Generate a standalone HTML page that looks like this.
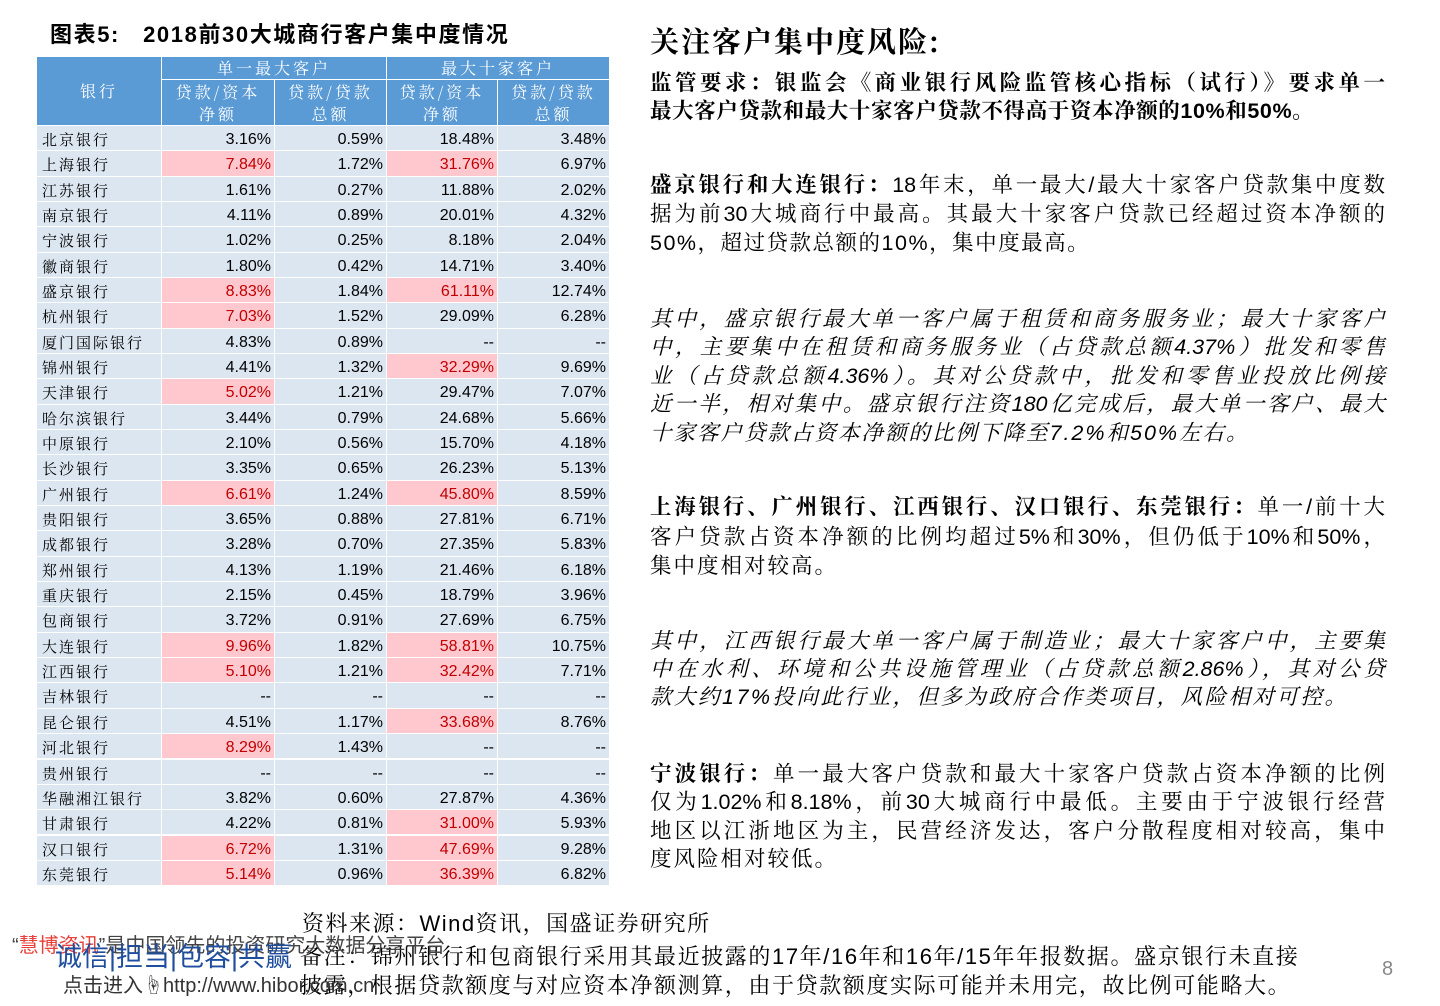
<!DOCTYPE html>
<html><head><meta charset="utf-8">
<style>
body{margin:0;width:1440px;height:1006px;background:#fff;position:relative;overflow:hidden;font-family:"Liberation Sans","Noto Sans CJK SC",sans-serif;color:#000}
.a{position:absolute;white-space:nowrap}
.hd{position:absolute;background:#5b9bd5;color:#fff;font-family:"Noto Serif CJK SC","Liberation Serif",serif;font-size:16px;text-align:center;letter-spacing:3px;line-height:22px;display:flex;align-items:center;justify-content:center}
.c{position:absolute;background:#dce6f1;font-size:16px;line-height:28px;text-align:right;padding-right:3px;box-sizing:border-box}
.bk{text-align:left;padding-left:5px;font-family:"Noto Serif CJK SC",serif;font-size:15px;letter-spacing:2px}
.hi{background:#ffc7ce;color:#c00000}
.ln{position:absolute;left:650px;width:735px;font-size:21.5px;line-height:28px;text-align:justify;text-align-last:justify;white-space:nowrap;font-family:"Liberation Sans","Noto Serif CJK SC",serif}
.last{text-align-last:left}
.it{font-style:italic}
</style></head><body>
<div class="a" style="left:50px;top:17px;font-size:22px;font-weight:bold;letter-spacing:1.6px">图表5:&nbsp;&nbsp; 2018前30大城商行客户集中度情况</div>
<div id="tbl">
<div class="hd" style="left:37px;top:57px;width:124px;height:68px">银行</div>
<div class="hd" style="left:162px;top:57px;width:224px;height:22px">单一最大客户</div>
<div class="hd" style="left:387px;top:57px;width:222px;height:22px">最大十家客户</div>
<div class="hd" style="left:162px;top:80px;width:112px;height:45px">贷款/资本<br>净额</div>
<div class="hd" style="left:275px;top:80px;width:111px;height:45px">贷款/贷款<br>总额</div>
<div class="hd" style="left:387px;top:80px;width:110px;height:45px">贷款/资本<br>净额</div>
<div class="hd" style="left:498px;top:80px;width:111px;height:45px">贷款/贷款<br>总额</div>
</div>
<script>
const banks=["北京银行","上海银行","江苏银行","南京银行","宁波银行","徽商银行","盛京银行","杭州银行","厦门国际银行","锦州银行","天津银行","哈尔滨银行","中原银行","长沙银行","广州银行","贵阳银行","成都银行","郑州银行","重庆银行","包商银行","大连银行","江西银行","吉林银行","昆仑银行","河北银行","贵州银行","华融湘江银行","甘肃银行","汉口银行","东莞银行"];
const singleToCapital=[3.16,7.84,1.61,4.11,1.02,1.80,8.83,7.03,4.83,4.41,5.02,3.44,2.10,3.35,6.61,3.65,3.28,4.13,2.15,3.72,9.96,5.10,null,4.51,8.29,null,3.82,4.22,6.72,5.14];
const singleToLoans=[0.59,1.72,0.27,0.89,0.25,0.42,1.84,1.52,0.89,1.32,1.21,0.79,0.56,0.65,1.24,0.88,0.70,1.19,0.45,0.91,1.82,1.21,null,1.17,1.43,null,0.60,0.81,1.31,0.96];
const topTenToCapital=[18.48,31.76,11.88,20.01,8.18,14.71,61.11,29.09,null,32.29,29.47,24.68,15.70,26.23,45.80,27.81,27.35,21.46,18.79,27.69,58.81,32.42,null,33.68,null,null,27.87,31.00,47.69,36.39];
const topTenToLoans=[3.48,6.97,2.02,4.32,2.04,3.40,12.74,6.28,null,9.69,7.07,5.66,4.18,5.13,8.59,6.71,5.83,6.18,3.96,6.75,10.75,7.71,null,8.76,null,null,4.36,5.93,9.28,6.82];
const cols=[[162,112],[275,111],[387,110],[498,111]];
const series=[singleToCapital,singleToLoans,topTenToCapital,topTenToLoans];
const thr=[5,null,30,null];
const tbl=document.getElementById('tbl');
const rowY=i=>126+i*25.34;
banks.forEach((b,i)=>{
  const y=rowY(i);
  const d=document.createElement('div');
  d.className='c bk';
  
  
  d.style.cssText=`left:37px;top:${y}px;width:124px;height:24.3px`;
  d.textContent=b;tbl.appendChild(d);
  series.forEach((s,j)=>{
    const v=s[i];
    const e=document.createElement('div');
    e.className='c'+(thr[j]!==null&&v!==null&&v>thr[j]?' hi':'');
    
    
    e.style.cssText=`left:${cols[j][0]}px;top:${y}px;width:${cols[j][1]}px;height:24.3px`;
    e.textContent=v===null?'--':v.toFixed(2)+'%';
    tbl.appendChild(e);
  });
});
</script>
<div class="a" style="left:650px;top:20px;font-size:29px;font-weight:bold;letter-spacing:2px;font-family:'Noto Serif CJK SC',serif;">关注客户集中度风险:</div>
<div>
<div class="ln" style="top:69px;font-weight:bold">监管要求：银监会《商业银行风险监管核心指标（试行）》要求单一</div>
<div class="ln last" style="top:97px;font-weight:bold;letter-spacing:0.6px">最大客户贷款和最大十家客户贷款不得高于资本净额的10%和50%。</div>
<div class="ln" style="top:171px"><b>盛京银行和大连银行：</b>18年末，单一最大/最大十家客户贷款集中度数</div>
<div class="ln" style="top:200px">据为前30大城商行中最高。其最大十家客户贷款已经超过资本净额的</div>
<div class="ln last" style="top:229px;letter-spacing:1.5px">50%，超过贷款总额的10%，集中度最高。</div>
<div class="ln it" style="top:305px">其中，盛京银行最大单一客户属于租赁和商务服务业；最大十家客户</div>
<div class="ln it" style="top:333px">中，主要集中在租赁和商务服务业（占贷款总额4.37%）批发和零售</div>
<div class="ln it" style="top:362px">业（占贷款总额4.36%）。其对公贷款中，批发和零售业投放比例接</div>
<div class="ln it" style="top:390px">近一半，相对集中。盛京银行注资180亿完成后，最大单一客户、最大</div>
<div class="ln it last" style="top:419px;letter-spacing:2px">十家客户贷款占资本净额的比例下降至7.2%和50%左右。</div>
<div class="ln" style="top:493px"><b>上海银行、广州银行、江西银行、汉口银行、东莞银行：</b>单一/前十大</div>
<div class="ln" style="top:523px">客户贷款占资本净额的比例均超过5%和30%，但仍低于10%和50%，</div>
<div class="ln last" style="top:552px;letter-spacing:2px">集中度相对较高。</div>
<div class="ln it" style="top:627px">其中，江西银行最大单一客户属于制造业；最大十家客户中，主要集</div>
<div class="ln it" style="top:655px">中在水利、环境和公共设施管理业（占贷款总额2.86%），其对公贷</div>
<div class="ln it last" style="top:683px;letter-spacing:2.5px">款大约17%投向此行业，但多为政府合作类项目，风险相对可控。</div>
<div class="ln" style="top:760px"><b>宁波银行：</b>单一最大客户贷款和最大十家客户贷款占资本净额的比例</div>
<div class="ln" style="top:788px">仅为1.02%和8.18%，前30大城商行中最低。主要由于宁波银行经营</div>
<div class="ln" style="top:817px">地区以江浙地区为主，民营经济发达，客户分散程度相对较高，集中</div>
<div class="ln last" style="top:845px;letter-spacing:2px">度风险相对较低。</div>
</div>
<div class="a" style="left:302px;top:907px;font-size:22px;letter-spacing:1.5px;font-family:'Liberation Sans','Noto Serif CJK SC',serif">资料来源：Wind资讯，国盛证券研究所</div>
<div class="a" style="left:300px;top:940px;font-size:22px;letter-spacing:1.6px;font-family:'Liberation Sans','Noto Serif CJK SC',serif">备注：锦州银行和包商银行采用其最近披露的17年/16年和16年/15年年报数据。盛京银行未直接</div>
<div class="a" style="left:300px;top:969px;font-size:22px;letter-spacing:1.6px;font-family:'Liberation Sans','Noto Serif CJK SC',serif">披露，根据贷款额度与对应资本净额测算，由于贷款额度实际可能并未用完，故比例可能略大。</div>
<div class="a" style="left:12px;top:929px;font-size:20px;color:#444">“<span style="color:#e8403a">慧博资讯</span>”是中国领先的投资研究大数据分享平台</div>
<div class="a" style="left:55px;top:935px;font-size:27px;color:#1f4e9e">诚信|担当|包容|共赢</div>
<div class="a" style="left:63px;top:969px;font-size:20px;color:#333">点击进入☝http://www.hibor.com.cn</div>
<div class="a" style="left:1382px;top:958px;font-size:20px;color:#888">8</div>
</body></html>
